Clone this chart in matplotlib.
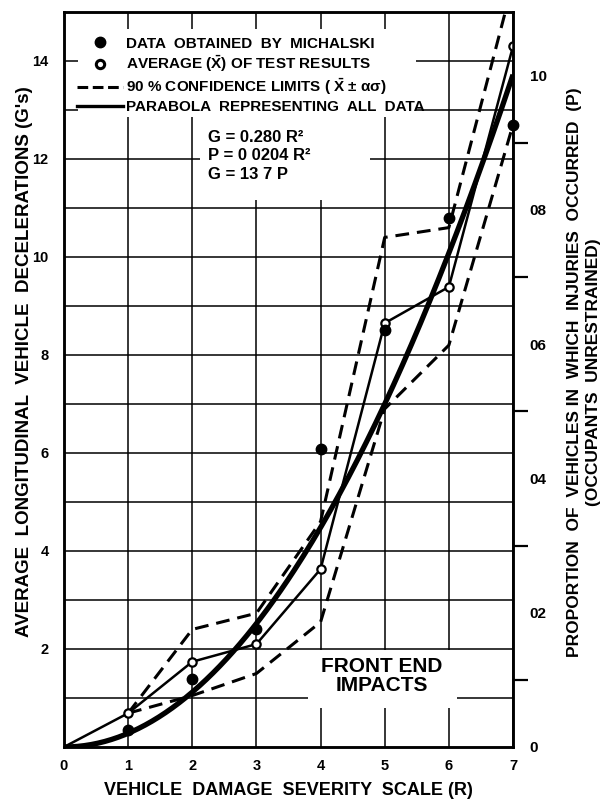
import numpy as np
import matplotlib.pyplot as plt
from matplotlib.lines import Line2D
from matplotlib.patches import Rectangle

plt.rcParams['font.family'] = ['Liberation Sans', 'DejaVu Sans']
plt.rcParams['font.weight'] = 'bold'
plt.rcParams['axes.labelweight'] = 'bold'
plt.rcParams['mathtext.fontset'] = 'custom'
plt.rcParams['mathtext.rm'] = 'Liberation Sans:bold'
plt.rcParams['mathtext.it'] = 'Liberation Sans:bold'
plt.rcParams['mathtext.bf'] = 'Liberation Sans:bold'

# Michalski data (filled dots)
michalski_r = [1, 2, 3, 4, 5, 6, 7]
michalski_g = [0.35, 1.39, 2.41, 6.08, 8.51, 10.8, 12.7]

# average of test results (open circles, thin line)
avg_r = [0, 1, 2, 3, 4, 5, 6, 7]
avg_g = [0, 0.69, 1.74, 2.10, 3.63, 8.65, 9.39, 14.3]

# 90% confidence limits
limit_r = [1, 2, 3, 4, 5, 6, 7]
upper_g = [0.69, 2.40, 2.73, 4.60, 10.4, 10.6, 15.6]
lower_g = [0.69, 1.05, 1.50, 2.55, 6.90, 8.20, 12.7]

# fitted parabola G = 0.280 R^2, P = G / 13.7
g_coef = 0.280
g_per_p = 13.7
r_fit = np.linspace(0, 7, 200)

x_ticks = [0, 1, 2, 3, 4, 5, 6, 7]
g_ticks = [2, 4, 6, 8, 10, 12, 14]
p_ticks = [0, 0.2, 0.4, 0.6, 0.8, 1.0]
p_labels = ['0', '02', '04', '06', '08', '10']

fig = plt.figure(figsize=(6.05, 7.99), dpi=100)
ax = fig.add_axes([64/605, 52/799, 449/605, 735/799])

ax.set_xlim(0, 7)
ax.set_ylim(0, 15)
ax.set_xticks(x_ticks)
ax.set_yticks(g_ticks)
ax.set_yticks(range(1, 15, 2), minor=True)
ax.tick_params(which='both', length=0, labelsize=10.5)
ax.tick_params(axis='x', pad=9)
ax.tick_params(axis='y', pad=11)
ax.grid(True, which='both', color='black', lw=1.1)
ax.set_axisbelow(True)
for s in ax.spines.values():
    s.set_linewidth(1.8)

# white areas behind the legend and equations
ax.add_patch(Rectangle((0.22, 12.86), 5.26, 1.8, facecolor='white', edgecolor='none', zorder=1))
ax.add_patch(Rectangle((2.12, 11.16), 2.65, 1.7, facecolor='white', edgecolor='none', zorder=1))
ax.add_patch(Rectangle((3.81, 0.80), 2.32, 1.18, facecolor='white', edgecolor='none', zorder=1))

ax.plot(r_fit, g_coef * r_fit**2, color='black', lw=3.8, zorder=3, solid_capstyle='butt')
ax.plot(limit_r, upper_g, color='black', lw=2.2, dashes=(4.5, 2.6), zorder=3)
ax.plot(limit_r, lower_g, color='black', lw=2.2, dashes=(4.5, 2.6), zorder=3)
ax.plot(avg_r, avg_g, color='black', lw=1.8, zorder=4)
ax.plot(avg_r[1:], avg_g[1:], ls='none', marker='o', ms=6, mfc='white', mec='black', mew=1.6, zorder=5)
ax.plot(michalski_r, michalski_g, ls='none', marker='o', ms=7.5, color='black', zorder=5, clip_on=False)

handles = [
    Line2D([], [], ls='none', marker='o', ms=7.5, color='black'),
    Line2D([], [], ls='none', marker='o', ms=6, mfc='white', mec='black', mew=2.2),
    Line2D([], [], color='black', lw=2.2, dashes=(3.5, 1.5)),
    Line2D([], [], color='black', lw=2.4),
]
labels = [
    'DATA  OBTAINED  BY  MICHALSKI',
    r'AVERAGE ($\bar{\mathrm{X}}$) OF TEST RESULTS',
    r'90 % CONFIDENCE LIMITS ( $\bar{\mathrm{X}}$ ± ασ)',
    'PARABOLA  REPRESENTING  ALL  DATA',
]
leg = ax.legend(handles, labels, loc='upper left', bbox_to_anchor=(0.005, 0.981),
                fontsize=11, frameon=False, handlelength=3.0, handletextpad=0.2,
                labelspacing=0.2, borderpad=0.2)
leg.set_zorder(6)

ax.text(2.25, 12.6, 'G = 0.280 R²\nP = 0 0204 R²\nG = 13 7 P', fontsize=12,
        va='top', ha='left', linespacing=1.3, zorder=6)
ax.text(4.95, 1.45, 'FRONT END\nIMPACTS', fontsize=15, ha='center', va='center',
        linespacing=1.0, zorder=6)

ax.set_xlabel('VEHICLE  DAMAGE  SEVERITY  SCALE (R)', fontsize=13, labelpad=6)
ax.set_ylabel("AVERAGE  LONGITUDINAL  VEHICLE  DECELERATIONS (G's)", fontsize=13.5)
ax.yaxis.set_label_coords(-0.07, 0.524)

# right axis: proportion of vehicles with injuries
ax2 = ax.twinx()
ax2.set_ylim(0, 15 / g_per_p)
ax2.set_yticks(p_ticks)
ax2.set_yticklabels(p_labels)
ax2.set_yticks(np.arange(0.1, 1.05, 0.1), minor=True)
ax2.tick_params(which='major', length=0, pad=12, labelsize=11)
ax2.tick_params(which='minor', length=11, width=1.6)
for s in ax2.spines.values():
    s.set_linewidth(1.8)
ax2.set_ylabel('PROPORTION  OF  VEHICLES IN  WHICH  INJURIES  OCCURRED  (P)\n(OCCUPANTS  UNRESTRAINED)',
               fontsize=12.5, linespacing=1.3)
ax2.yaxis.set_label_coords(1.121, 0.51)

fig.savefig('out.png', dpi=100)
